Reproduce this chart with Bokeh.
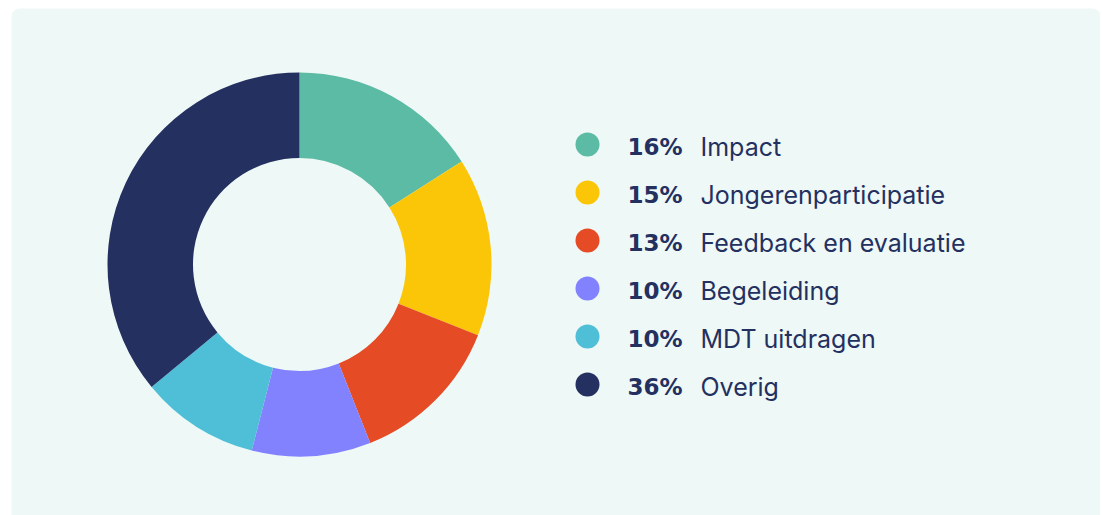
import math
from bokeh.plotting import figure
from bokeh.models import Range1d, ColumnDataSource, BoxAnnotation
from bokeh.core.properties import value
from bokeh.embed import file_html
from bokeh.resources import INLINE

categories = ["Impact", "Jongerenparticipatie", "Feedback en evaluatie", "Begeleiding", "MDT uitdragen", "Overig"]
values = [16, 15, 13, 10, 10, 36]
colors = ["#5CBBA4", "#FCC608", "#E54B24", "#8282FF", "#4FBED7", "#243060"]

W, H = 1100, 515
BG = "#EEF8F6"
TEXT = "#243060"

p = figure(width=W, height=H, output_backend="svg", toolbar_location=None,
           x_range=Range1d(0, W), y_range=Range1d(0, H), min_border=0,
           background_fill_color="white", border_fill_color="white", outline_line_color=None)
p.axis.visible = False
p.grid.visible = False

panel = BoxAnnotation(left=11, right=1100, bottom=-20, top=H - 8, fill_color=BG, fill_alpha=1,
                      line_color=None, border_radius=8, level="underlay")
p.add_layout(panel)

total = sum(values)
starts, ends = [], []
cum = 0
for v in values:
    starts.append(math.pi / 2 - 2 * math.pi * cum / total)
    cum += v
    ends.append(math.pi / 2 - 2 * math.pi * cum / total)

src = ColumnDataSource(dict(start=starts, end=ends, color=colors))
cx, cy = 299, 251
p.annular_wedge(x=cx, y=cy, inner_radius=106.5, outer_radius=192, start_angle="start", end_angle="end",
                direction="clock", fill_color="color", line_color=None, source=src)

n = len(categories)
row_y = [371 - 48 * i for i in range(n)]
pct = [f"{v}%" for v in values]
leg = ColumnDataSource(dict(y=row_y, ty=[y - 2 for y in row_y], pct=pct, cat=categories, color=colors))
p.circle(x=587, y="y", radius=12, fill_color="color", line_color=None, source=leg)
p.text(x=627, y="ty", text="pct", text_font=value("DejaVu Sans"), text_font_style="bold",
       text_font_size="23px", text_color=TEXT, text_baseline="alphabetic", source=leg)
p.text(x=700, y="ty", text="cat", text_font=value("Inter"),
       text_font_size="25px", text_color=TEXT, text_baseline="alphabetic", source=leg)

open("out.html", "w").write(file_html(p, INLINE))
